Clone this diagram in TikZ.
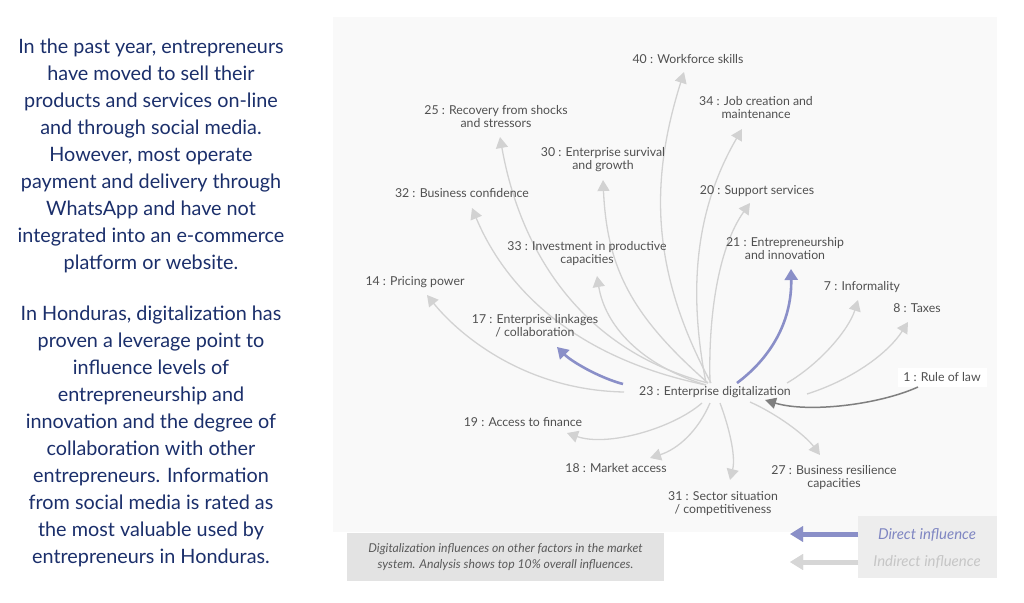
\documentclass[tikz,border=0pt]{standalone}
\usepackage{fontspec}
\setmainfont{Lato}
\usetikzlibrary{arrows.meta}
\definecolor{navy}{HTML}{1B2F6B}
\definecolor{labgrey}{HTML}{505050}
\definecolor{lineg}{HTML}{D2D2D2}
\definecolor{dirblue}{HTML}{8A8FC8}
\definecolor{darkg}{HTML}{7F7F7F}
\definecolor{panelc}{HTML}{F9F9F9}
\definecolor{capbox}{HTML}{E3E3E3}
\definecolor{legbox}{HTML}{EDEDED}
\definecolor{captext}{HTML}{5A5A5A}
\definecolor{legdir}{HTML}{7F86C2}
\definecolor{legind}{HTML}{C6C6C6}
\tikzset{
  lab/.style={font=\fontsize{12.3}{13}\selectfont, text=labgrey, align=center, inner sep=0pt},
  indarrow/.style={draw=lineg, line width=1.3pt, -{Triangle[length=11pt,width=12pt]}},
  dirarrow/.style={draw=dirblue, line width=2.6pt, -{Triangle[length=11pt,width=13pt]}},
  darkarrow/.style={draw=darkg, line width=1.5pt, -{Triangle[length=11pt,width=11pt]}},
  sidetext/.style={font=\fontsize{19.8}{27}\selectfont, text=navy, align=center, inner sep=0pt, anchor=north},
  legarrow/.style={line width=5pt, -{Triangle[length=13pt,width=15pt]}},
}
\begin{document}
\begin{tikzpicture}[x=1pt,y=-1pt]
\useasboundingbox (0,0) rectangle (1024,602);
\fill[white] (0,0) rectangle (1024,602);
% panel
\fill[panelc] (333,17) rectangle (997,532);

% left text
\node[sidetext] (p1) at (151,39) {In the past year, entrepreneurs\\have moved to sell their\\products and services on-line\\and through social media.\\However, most operate\\payment and delivery through\\WhatsApp and have not\\integrated into an e-commerce\\platform or website.};
\node[sidetext] (p2) at (151,306) {In Honduras, digitalization has\\proven a leverage point to\\influence levels of\\entrepreneurship and\\innovation and the degree of\\collaboration with other\\entrepreneurs. Information\\from social media is rated as\\the most valuable used by\\entrepreneurs in Honduras.};

% arrow end points
\coordinate (f40) at (711,383); \coordinate (t40) at (684,72);
\coordinate (f34) at (706,383); \coordinate (t34) at (742,129);
\coordinate (f25) at (708,383); \coordinate (t25) at (500,137);
\coordinate (f30) at (708,383); \coordinate (t30) at (603,180);
\coordinate (f32) at (706,385); \coordinate (t32) at (472,208);
\coordinate (f20) at (710,383); \coordinate (t20) at (750,203);
\coordinate (f33) at (706,385); \coordinate (t33) at (597,276);
\coordinate (f14) at (624,392); \coordinate (t14) at (427,295);
\coordinate (f17) at (623,384); \coordinate (t17) at (557,347);
\coordinate (f21) at (737,383); \coordinate (t21) at (791,269);
\coordinate (f7) at (787,383); \coordinate (t7) at (858,300);
\coordinate (f8) at (807,394); \coordinate (t8) at (908,322);
\coordinate (f1) at (918,387); \coordinate (t1) at (765,400);
\coordinate (f19) at (702,403); \coordinate (t19) at (567,433);
\coordinate (f18) at (710,403); \coordinate (t18) at (650,458);
\coordinate (f31) at (720,403); \coordinate (t31) at (730,480);
\coordinate (f27) at (750,402); \coordinate (t27) at (820,455);

% indirect influences
\draw[indarrow] (f40) .. controls (650,270) and (650,180) .. (t40);
\draw[indarrow] (f34) .. controls (688,290) and (695,210) .. (t34);
\draw[indarrow] (f25) .. controls (580,350) and (520,250) .. (t25);
\draw[indarrow] (f30) .. controls (633,317) and (607,270) .. (t30);
\draw[indarrow] (f32) .. controls (560,355) and (500,275) .. (t32);
\draw[indarrow] (f20) .. controls (708,310) and (720,245) .. (t20);
\draw[indarrow] (f33) .. controls (640,365) and (605,325) .. (t33);
\draw[indarrow] (f14) .. controls (520,390) and (455,330) .. (t14);
\draw[indarrow] (f7) .. controls (821,363) and (849,329) .. (t7);
\draw[indarrow] (f8) .. controls (854,379) and (889,352) .. (t8);
\draw[indarrow] (f19) .. controls (672,429) and (607,447) .. (t19);
\draw[indarrow] (f18) .. controls (698,431) and (678,449) .. (t18);
\draw[indarrow] (f31) .. controls (729,427) and (736,456) .. (t31);
\draw[indarrow] (f27) .. controls (777,414) and (805,435) .. (t27);
% direct influences
\draw[dirarrow] (f17) .. controls (600,378) and (572,362) .. (t17);
\draw[dirarrow] (f21) .. controls (773,356) and (792,319) .. (t21);

% labels
\node[lab] (n40) at (688,59) {40 : Workforce skills};
\node[lab] (n34) at (756,108) {34 : Job creation and\\maintenance};
\node[lab] (n25) at (496,117) {25 : Recovery from shocks\\and stressors};
\node[lab] (n30) at (603,160) {30 : Enterprise survival\\and growth};
\node[lab] (n32) at (462,193) {32 : Business confidence};
\node[lab] (n20) at (757,191) {20 : Support services};
\node[lab] (n33) at (587,254) {33 : Investment in productive\\capacities};
\node[lab] (n21) at (785,249) {21 : Entrepreneurship\\and innovation};
\node[lab] (n14) at (415,282) {14 : Pricing power};
\node[lab] (n7) at (862,287) {7 : Informality};
\node[lab] (n8) at (917,308) {8 : Taxes};
\node[lab] (n17) at (535,326) {17 : Enterprise linkages\\/ collaboration};
\node[lab, fill=white, minimum width=89pt, minimum height=19pt] (n1) at (942,377.5) {1 : Rule of law};
\node[lab] (n23) at (715,392) {23 : Enterprise digitalization};
\node[lab] (n19) at (523,422) {19 : Access to finance};
\node[lab] (n18) at (616,468) {18 : Market access};
\node[lab] (n27) at (834,478) {27 : Business resilience\\capacities};
\node[lab] (n31) at (723,504) {31 : Sector situation\\/ competitiveness};

\draw[darkarrow] (f1) .. controls (878,405) and (808,413) .. (t1);

% caption
\node[fill=capbox, minimum width=317pt, minimum height=48pt, inner sep=0pt, align=center, text=captext,
  font=\fontsize{12.2}{16}\selectfont\itshape] (cap) at (505.5,557) {Digitalization influences on other factors in the market\\system. Analysis shows top 10\% overall influences.};

% legend
\node[fill=legbox, minimum width=139pt, minimum height=62pt, inner sep=0pt] (leg) at (927.5,547) {};
\coordinate (ldA) at (858,534); \coordinate (ldB) at (790,534);
\coordinate (liA) at (858,562); \coordinate (liB) at (790,562);
\draw[legarrow, draw=black!25, fill=black!25, opacity=0.5, xshift=1pt, yshift=-2.5pt] (ldA) -- (ldB);
\draw[legarrow, draw=dirblue, fill=dirblue] (ldA) -- (ldB);
\draw[legarrow, draw=black!25, fill=black!25, opacity=0.5, xshift=1pt, yshift=-2.5pt] (liA) -- (liB);
\draw[legarrow, draw=black!16, fill=black!16] (liA) -- (liB);
\node[font=\fontsize{15}{16}\selectfont\itshape, text=legdir] (ld) at (927,535) {Direct influence};
\node[font=\fontsize{15}{16}\selectfont\itshape, text=legind] (li) at (927,562) {Indirect influence};
\end{tikzpicture}
\end{document}
